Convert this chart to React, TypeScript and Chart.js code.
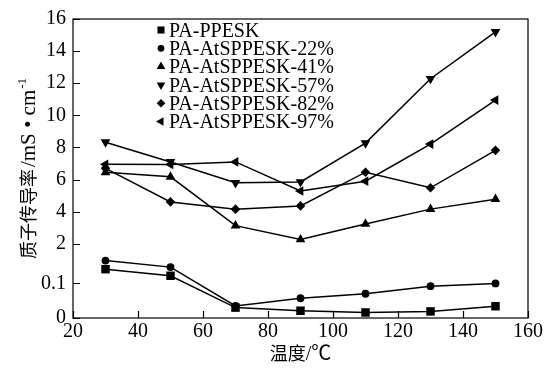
import React, { useEffect, useRef } from 'react';
import { Chart, registerables } from 'chart.js';

Chart.register(...registerables);

// Temperature (°C) at which conductivity was measured
const temperatures = [30, 50, 70, 90, 110, 130, 150];

// Proton conductivity, mS·cm⁻¹
const paPpesk = [0.141, 0.122, 0.030, 0.021, 0.016, 0.019, 0.034];
const paAt22 = [0.166, 0.147, 0.035, 0.057, 0.070, 0.092, 0.100];
const paAt41 = [6.45, 6.17, 3.13, 2.27, 3.23, 4.16, 4.78];
const paAt57 = [8.33, 7.1, 5.8, 5.85, 8.27, 12.28, 15.2];
const paAt82 = [6.7, 4.61, 4.16, 4.36, 6.46, 5.49, 7.82];
const paAt97 = [6.95, 6.94, 7.1, 5.29, 5.9, 8.21, 10.95];

const seriesNames = [
  'PA-PPESK',
  'PA-AtSPPESK-22%',
  'PA-AtSPPESK-41%',
  'PA-AtSPPESK-57%',
  'PA-AtSPPESK-82%',
  'PA-AtSPPESK-97%',
];

const yTickLabels = [0, 0.1, 2, 4, 6, 8, 10, 12, 14, 16];
const xTickLabels = [20, 40, 60, 80, 100, 120, 140, 160];

const yTitleCjk = '质子传导率';
const yTitleUnit = '/mS • cm';
const yTitleSup = '-1';
const xTitleCjk = '温度';
const xTitleUnit = '/℃';

// Broken value axis: 0–0.2 stretched at the bottom, 2–16 linear above it.
const axisPos = (v: number): number => {
  if (v <= 0.2) return v * 350;
  if (v < 2) return 70 + ((v - 0.2) / 1.8) * 5;
  return 75 + (v - 2) * 16.236;
};

type Marker = { style: string; rotation: number; radius: number; legendRadius: number };
const markers: Marker[] = [
  { style: 'rect', rotation: 0, radius: 6, legendRadius: 5 },
  { style: 'circle', rotation: 0, radius: 3.9, legendRadius: 3.4 },
  { style: 'triangle', rotation: 0, radius: 5.6, legendRadius: 5 },
  { style: 'triangle', rotation: 180, radius: 5.6, legendRadius: 5 },
  { style: 'rectRot', rotation: 0, radius: 4.8, legendRadius: 4.3 },
  { style: 'triangle', rotation: 270, radius: 5.6, legendRadius: 5 },
];

const SERIF = '"Liberation Serif", "Times New Roman", serif';
const CJK = '"Noto Sans CJK SC", sans-serif';

function drawMarker(ctx: CanvasRenderingContext2D, m: Marker, x: number, y: number, r: number) {
  ctx.beginPath();
  if (m.style === 'rect') {
    const s = Math.SQRT1_2 * r;
    ctx.rect(x - s, y - s, 2 * s, 2 * s);
  } else if (m.style === 'circle') {
    ctx.arc(x, y, r, 0, Math.PI * 2);
  } else if (m.style === 'rectRot') {
    ctx.moveTo(x, y - r);
    ctx.lineTo(x + r, y);
    ctx.lineTo(x, y + r);
    ctx.lineTo(x - r, y);
    ctx.closePath();
  } else {
    let a = (m.rotation * Math.PI) / 180;
    for (let k = 0; k < 3; k++) {
      const px = x + Math.sin(a) * r;
      const py = y - Math.cos(a) * r;
      if (k === 0) ctx.moveTo(px, py);
      else ctx.lineTo(px, py);
      a += (2 * Math.PI) / 3;
    }
    ctx.closePath();
  }
  ctx.fill();
}

const framePlugin = {
  id: 'frameAndLabels',
  afterDraw(chart: any) {
    const ctx: CanvasRenderingContext2D = chart.ctx;
    const { left, right, top, bottom } = chart.chartArea;
    const xScale = chart.scales.x;
    const yScale = chart.scales.y;
    ctx.save();
    ctx.strokeStyle = '#000';
    ctx.fillStyle = '#000';

    // plot frame
    ctx.lineWidth = 1.2;
    ctx.strokeRect(left, top, right - left, bottom - top);

    // inward tick marks
    ctx.lineWidth = 1.2;
    ctx.beginPath();
    xTickLabels.forEach((v) => {
      const px = Math.round(xScale.getPixelForValue(v)) + 0.5;
      ctx.moveTo(px, bottom);
      ctx.lineTo(px, bottom - 7);
    });
    yTickLabels.forEach((v) => {
      const py = Math.round(yScale.getPixelForValue(axisPos(v))) + 0.5;
      ctx.moveTo(left, py);
      ctx.lineTo(left + 7, py);
    });
    ctx.stroke();

    // legend
    ctx.textAlign = 'left';
    ctx.textBaseline = 'alphabetic';
    ctx.font = `20px ${SERIF}`;
    seriesNames.forEach((name, i) => {
      const cy = 30 + i * 18.3;
      drawMarker(ctx, markers[i], 161, cy, markers[i].legendRadius);
      ctx.fillText(name, 169, cy + 6.6);
    });

    // y-axis title (rotated)
    ctx.save();
    ctx.translate(28, (top + bottom) / 2);
    ctx.rotate(-Math.PI / 2);
    ctx.font = `18px ${CJK}`;
    const w1 = ctx.measureText(yTitleCjk).width;
    ctx.font = `21px ${SERIF}`;
    const w2 = ctx.measureText(yTitleUnit).width;
    ctx.font = `13px ${SERIF}`;
    const w3 = ctx.measureText(yTitleSup).width;
    const gap = 2;
    let tx = -(w1 + w2 + w3 + gap + 1) / 2;
    ctx.font = `18px ${CJK}`;
    ctx.fillText(yTitleCjk, tx, 6.8);
    tx += w1 + gap;
    ctx.font = `21px ${SERIF}`;
    ctx.fillText(yTitleUnit, tx, 6.8);
    tx += w2 + 1;
    ctx.font = `13px ${SERIF}`;
    ctx.fillText(yTitleSup, tx, -1.8);
    ctx.restore();

    // x-axis title
    ctx.font = `18px ${CJK}`;
    const xw1 = ctx.measureText(xTitleCjk).width;
    ctx.font = `20px ${SERIF}, ${CJK}`;
    const xw2 = ctx.measureText(xTitleUnit).width;
    let sx = (left + right) / 2 - (xw1 + xw2) / 2;
    ctx.font = `18px ${CJK}`;
    ctx.fillText(xTitleCjk, sx, 360);
    sx += xw1;
    ctx.font = `20px ${SERIF}, ${CJK}`;
    ctx.fillText(xTitleUnit, sx, 360);

    ctx.restore();
  },
};

const seriesValues = [paPpesk, paAt22, paAt41, paAt57, paAt82, paAt97];

export default function App() {
  const canvasRef = useRef<HTMLCanvasElement | null>(null);

  useEffect(() => {
    const canvas = canvasRef.current;
    if (!canvas) return;

    const datasets = seriesValues.map((vals, i) => ({
      label: seriesNames[i],
      data: temperatures.map((t, k) => ({ x: t, y: axisPos(vals[k]) })),
      borderColor: '#000',
      backgroundColor: '#000',
      borderWidth: 1.5,
      pointStyle: markers[i].style,
      rotation: markers[i].rotation,
      pointRadius: markers[i].radius,
      pointBackgroundColor: '#000',
      pointBorderColor: '#000',
      pointBorderWidth: 0,
      tension: 0,
      fill: false,
    }));

    const chart = new Chart(canvas, {
      type: 'line',
      data: { datasets },
      options: {
        animation: false,
        responsive: false,
        devicePixelRatio: 1,
        layout: { padding: { top: 16, right: 21, left: 0, bottom: 0 } },
        plugins: { legend: { display: false }, tooltip: { enabled: false } },
        scales: {
          x: {
            type: 'linear',
            min: 20,
            max: 160,
            afterBuildTicks: (scale: any) => {
              scale.ticks = xTickLabels.map((v) => ({ value: v }));
            },
            afterFit: (scale: any) => {
              scale.height = 52;
            },
            grid: { display: false, drawTicks: false },
            border: { display: false },
            ticks: {
              color: '#000',
              font: { family: SERIF, size: 20 },
              padding: 2,
              maxRotation: 0,
              autoSkip: false,
            },
          },
          y: {
            type: 'linear',
            min: 0,
            max: axisPos(16),
            afterBuildTicks: (scale: any) => {
              scale.ticks = yTickLabels.map((v) => ({ value: axisPos(v) }));
            },
            afterFit: (scale: any) => {
              scale.width = 73;
            },
            grid: { display: false, drawTicks: false },
            border: { display: false },
            ticks: {
              color: '#000',
              font: { family: SERIF, size: 20 },
              padding: 7,
              autoSkip: false,
              callback: (_v: any, index: number) => String(yTickLabels[index]),
            },
          },
        },
      } as any,
      plugins: [framePlugin],
    });

    return () => chart.destroy();
  }, []);

  return (
    <div style={{ position: 'absolute', left: 0, top: 0, width: 549, height: 370, background: '#fff' }}>
      <canvas ref={canvasRef} width={549} height={370} />
    </div>
  );
}
